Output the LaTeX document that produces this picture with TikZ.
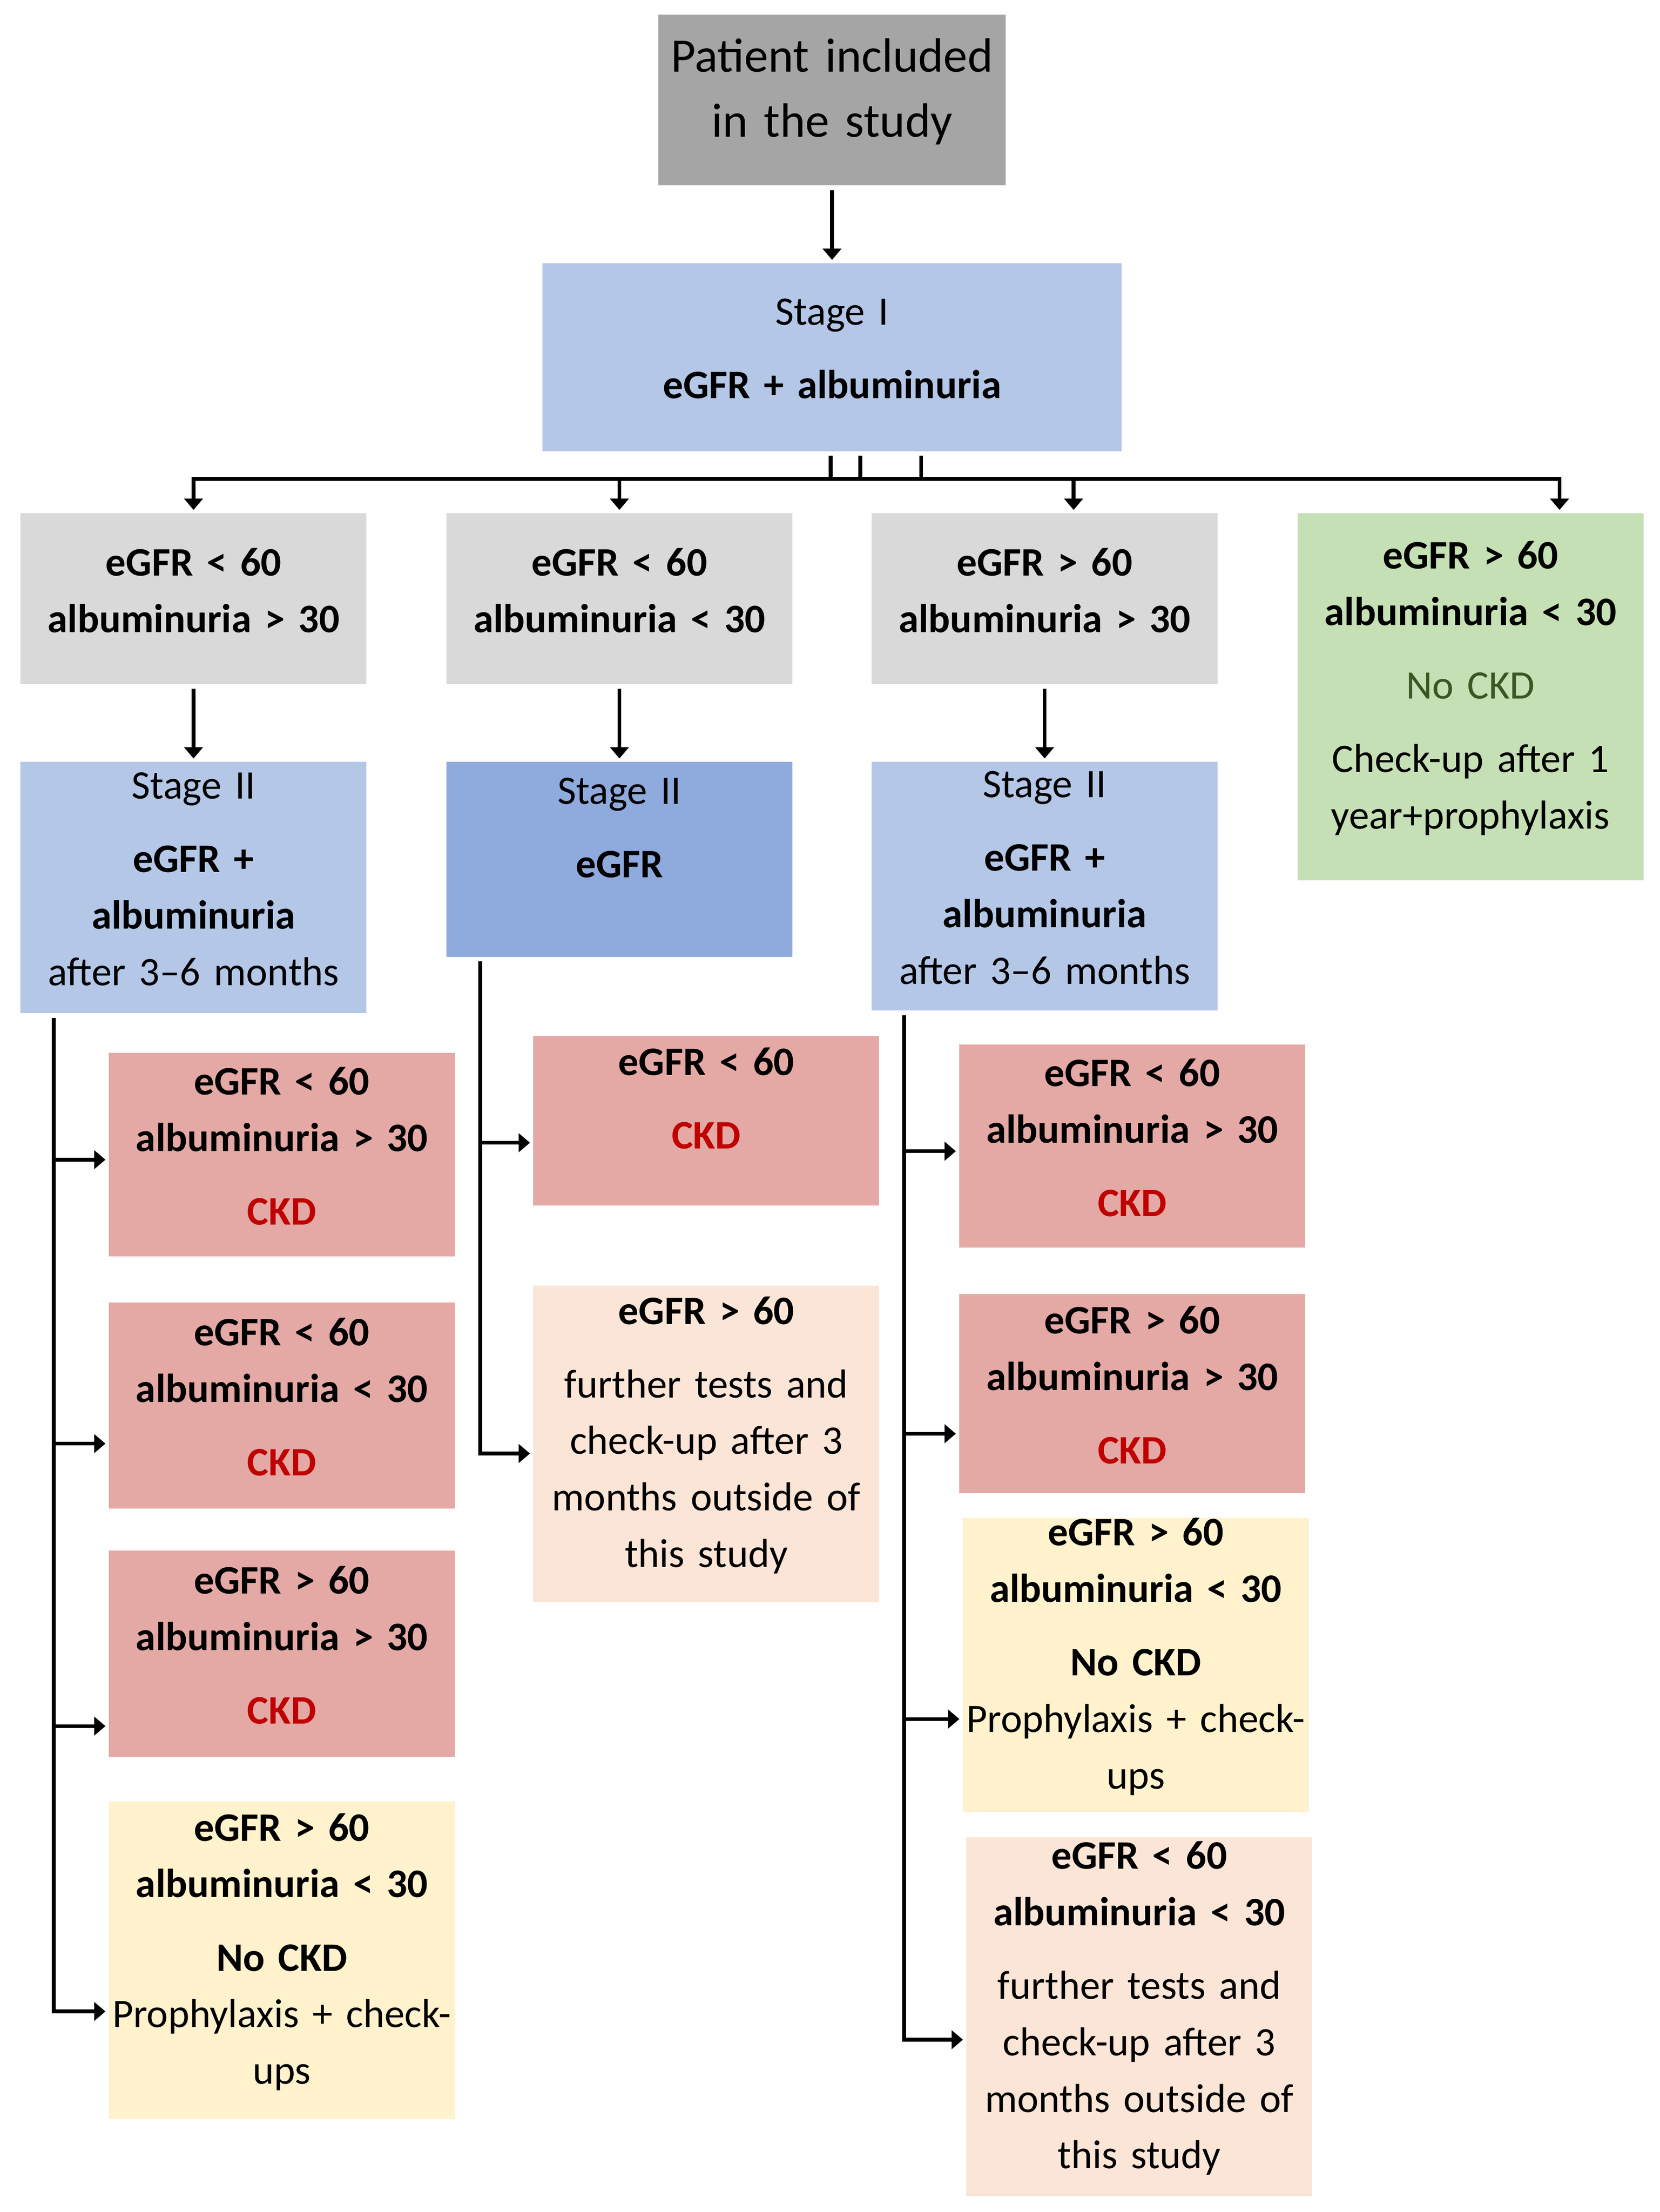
\documentclass[tikz,border=0pt]{standalone}
\usepackage{fontspec}
\setmainfont{Carlito}
\usepackage{xcolor}
\usepackage{tikz}
\usetikzlibrary{arrows.meta,positioning}
\definecolor{cpat}{HTML}{A5A5A5}
\definecolor{cgrey}{HTML}{D9D9D9}
\definecolor{cstage}{HTML}{B4C7E7}
\definecolor{cstagetwo}{HTML}{8FAADC}
\definecolor{cgreen}{HTML}{C5E0B4}
\definecolor{cnockd}{HTML}{385723}
\definecolor{cred}{HTML}{E4A9A5}
\definecolor{cckd}{HTML}{C00000}
\definecolor{cyellow}{HTML}{FFF2CC}
\definecolor{cpeach}{HTML}{FBE5D6}
\newcommand{\boxfont}{\fontsize{16.3pt}{22.8pt}\selectfont}
\newcommand{\patfont}{\fontsize{19.4pt}{26.2pt}\selectfont}
\newcommand{\bgap}{\\[6.8pt]}
\newcommand{\ckd}{\textcolor{cckd}{\textbf{CKD}}}
\tikzset{box/.style={rectangle, inner ysep=0pt, inner xsep=-0.15cm, anchor=north, align=center, minimum width=4.9cm, text width=5.2cm, font=\boxfont, execute at end node={\par\vspace*{6.8pt}}}}
\tikzset{patbox/.style={box, fill=cpat, minimum width=4.92cm, minimum height=2.42cm, font=\patfont}}
\tikzset{greybox/.style={box, fill=cgrey, minimum height=2.42cm}}
\tikzset{stagebox/.style={box, fill=cstage}}
\tikzset{redbox/.style={box, fill=cred}}
\tikzset{yellowbox/.style={box, fill=cyellow}}
\tikzset{peachbox/.style={box, fill=cpeach}}
\tikzset{greenbox/.style={box, fill=cgreen}}
\tikzset{line/.style={draw, line width=1.5pt, -{Triangle[length=0.16cm, width=0.26cm]}, shorten >=0.04cm, shorten <=0.06cm}}

\begin{document}
\begin{tikzpicture}[x=0.02cm, y=-0.02cm]
		\useasboundingbox (0,0) rectangle (1175,1566);
		
		\node [patbox] (pat) at (589,10) {Patient included\\in the study};
		\node [stagebox, minimum width=8.2cm, text width=8.5cm, minimum height=2.66cm] (stg) at (589,186) {Stage I\bgap\textbf{eGFR + albuminuria}};
		
		% first split
		\node [greybox] (A) at (137,363) {\textbf{eGFR < 60}\\\textbf{albuminuria > 30}};
		\node [greybox] (B) at (438.5,363) {\textbf{eGFR < 60}\\\textbf{albuminuria < 30}};
		\node [greybox] (C) at (739.5,363) {\textbf{eGFR > 60}\\\textbf{albuminuria > 30}};
		\node [greenbox, minimum width=4.88cm, minimum height=5.2cm] (D) at (1041,363) {\textbf{eGFR > 60}\\\textbf{albuminuria < 30}\bgap\textcolor{cnockd}{No CKD}\bgap Check-up after 1\\year+prophylaxis};
		
		% stage II
		\node [stagebox, minimum height=3.56cm] (A2) at (137,539) {Stage II\bgap\textbf{eGFR +}\\\textbf{albuminuria}\\after 3–6 months};
		\node [stagebox, fill=cstagetwo, minimum height=2.76cm] (B2) at (438.5,539) {Stage II\bgap\textbf{eGFR}\\[-4.1pt]\mbox{}};
		\node [stagebox, minimum height=3.52cm] (C2) at (739.5,539) {Stage II\bgap\textbf{eGFR +}\\\textbf{albuminuria}\\after 3–6 months};
		
		% left column
		\node [redbox, minimum height=2.88cm] (L1) at (199.5,745) {\textbf{eGFR < 60}\\\textbf{albuminuria > 30}\bgap\ckd};
		\node [redbox, minimum height=2.92cm, below=0.64cm of L1] (L2) {\textbf{eGFR < 60}\\\textbf{albuminuria < 30}\bgap\ckd};
		\node [redbox, minimum height=2.92cm, below=0.58cm of L2] (L3) {\textbf{eGFR > 60}\\\textbf{albuminuria > 30}\bgap\ckd};
		\node [yellowbox, minimum height=4.5cm, below=0.62cm of L3] (L4) {\textbf{eGFR > 60}\\\textbf{albuminuria < 30}\bgap\textbf{No CKD}\\Prophylaxis + check-\\ups};
		
		% middle column
		\node [redbox, minimum height=2.4cm] (M1) at (500,733) {\textbf{eGFR < 60}\bgap\ckd\\[-11.4pt]\mbox{}};
		\node [peachbox, minimum height=4.48cm, below=1.12cm of M1] (M2) {\textbf{eGFR > 60}\bgap further tests and\\check-up after 3\\months outside of\\this study};
		
		% right column
		\node [redbox, minimum height=2.88cm] (R1) at (801.5,739) {\textbf{eGFR < 60}\\\textbf{albuminuria > 30}\bgap\ckd};
		\node [redbox, minimum height=2.82cm, below=0.64cm of R1] (R2) {\textbf{eGFR > 60}\\\textbf{albuminuria > 30}\bgap\ckd};
		\node [yellowbox, minimum height=4.14cm, below=0.34cm of R2, xshift=0.05cm] (R3) {\textbf{eGFR > 60}\\\textbf{albuminuria < 30}\bgap\textbf{No CKD}\\Prophylaxis + check-\\ups};
		\node [peachbox, minimum height=5.08cm, below=0.34cm of R3, xshift=0.05cm] (R4) {\textbf{eGFR < 60}\\\textbf{albuminuria < 30}\bgap further tests and\\check-up after 3\\months outside of\\this study};
		
		\coordinate (bus) at (0,339);
		\coordinate (cdrop) at (760,339);
		\coordinate (ddrop) at (1104,339);
		
		\path [line] (pat) -- (stg);
		\path [line] (stg.south -| 588,0) |- (A.north |- bus) -- (A.north);
		\path [line] (stg.south -| 609,0) |- (B.north |- bus) -- (B.north);
		\path [line] (stg.south -| 588,0) |- (cdrop) -- (C.north -| cdrop);
		\path [line] (stg.south -| 652,0) |- (ddrop) -- (D.north -| ddrop);
		
		\path [line] (A) -- (A2);
		\path [line] (B) -- (B2);
		\path [line] (C) -- (C2);
		
		\path [line] (A2.south -| 38,0) |- (L1.west |- 0,821);
		\path [line] (A2.south -| 38,0) |- (L2.west |- 0,1022);
		\path [line] (A2.south -| 38,0) |- (L3.west |- 0,1222);
		\path [line] (A2.south -| 38,0) |- (L4.west |- 0,1424);
		
		\path [line] (B2.south -| 340,0) |- (M1.west |- 0,809);
		\path [line] (B2.south -| 340,0) |- (M2.west |- 0,1029);
		
		\path [line] (C2.south -| 640,0) |- (R1.west |- 0,815);
		\path [line] (C2.south -| 640,0) |- (R2.west |- 0,1015);
		\path [line] (C2.south -| 640,0) |- (R3.west |- 0,1217);
		\path [line] (C2.south -| 640,0) |- (R4.west |- 0,1444);
		
		\end{tikzpicture}
\end{document}
